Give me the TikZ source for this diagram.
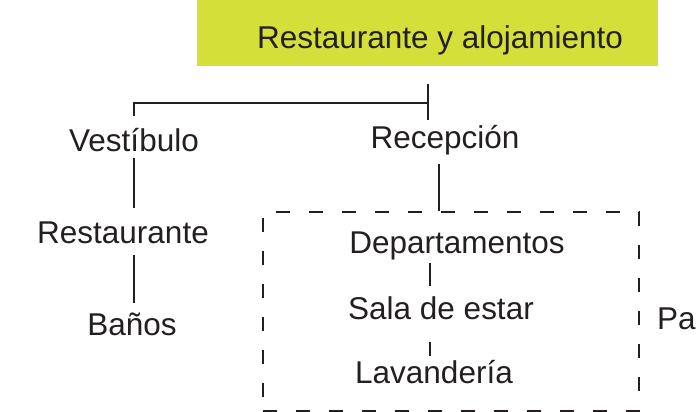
\documentclass[tikz,border=0pt]{standalone}
\usepackage{fontspec}
\setmainfont{Liberation Sans}
\usepackage{tikz}
\usetikzlibrary{positioning}

\definecolor{titlegreen}{RGB}{213,223,58}
\definecolor{inkgray}{RGB}{35,31,32}

\begin{document}
\begin{tikzpicture}[
  x=1pt, y=-1pt,
  every node/.style={font=\fontsize{31.5}{36}\selectfont, text=inkgray},
  lbl/.style={anchor=base, inner sep=0pt, text height=24pt, text depth=7pt},
  lnk/.style={line width=2pt, draw=inkgray},
  grp/.style={draw=inkgray, line width=1.1pt, dash pattern=on 14pt off 19pt, minimum width=376pt, minimum height=199pt, inner sep=0pt}
]
\useasboundingbox (0,0) rectangle (697,412);

% Title bar
\fill[titlegreen] (197,0) rectangle (658,66);
\node[lbl] (title) at (440,49) {Restaurante y alojamiento};

% Left column
\node[lbl] (vest) at (134,151) {Vestíbulo};
\node[lbl] (rest) at (123,243) {Restaurante};
\node[lbl] (banos) at (132,335) {Baños};

% Right column and its group
\node[lbl] (recep) at (445,149) {Recepción};
\node[grp] (grp) at (451,311.5) {};
\node[lbl] (dept) at (457,253) {Departamentos};
\node[lbl] (sala) at (441,319) {Sala de estar};
\node[lbl] (lav) at (434,383) {Lavandería};
\node[lbl, anchor=base west] (pa) at (657,329) {Pa};

% Top bracket
\coordinate (tick) at (428,103);
\draw[lnk] ([yshift=11pt]vest.north) |- (tick);
\draw[lnk] ([yshift=19pt]tick) -- ([yshift=-17pt]tick);

% Column links
\draw[lnk, shorten >=11pt] (vest.south) -- (vest.south |- rest.north);
\draw[lnk, shorten <=5pt, shorten >=8pt] ([xshift=2pt]banos.north |- rest.south) -- ([xshift=2pt]banos.north);
\draw[lnk, shorten <=8pt] ([xshift=-6pt]recep.south) -- ([xshift=-6pt]recep.south |- grp.north);
\draw[lnk, shorten <=3pt, shorten >=9pt] ([xshift=-11pt]sala.north |- dept.south) -- ([xshift=-11pt]sala.north);
\draw[lnk, shorten <=16pt, shorten >=3pt] ([xshift=-4pt]lav.north |- sala.south) -- ([xshift=-4pt]lav.north);
\end{tikzpicture}
\end{document}
